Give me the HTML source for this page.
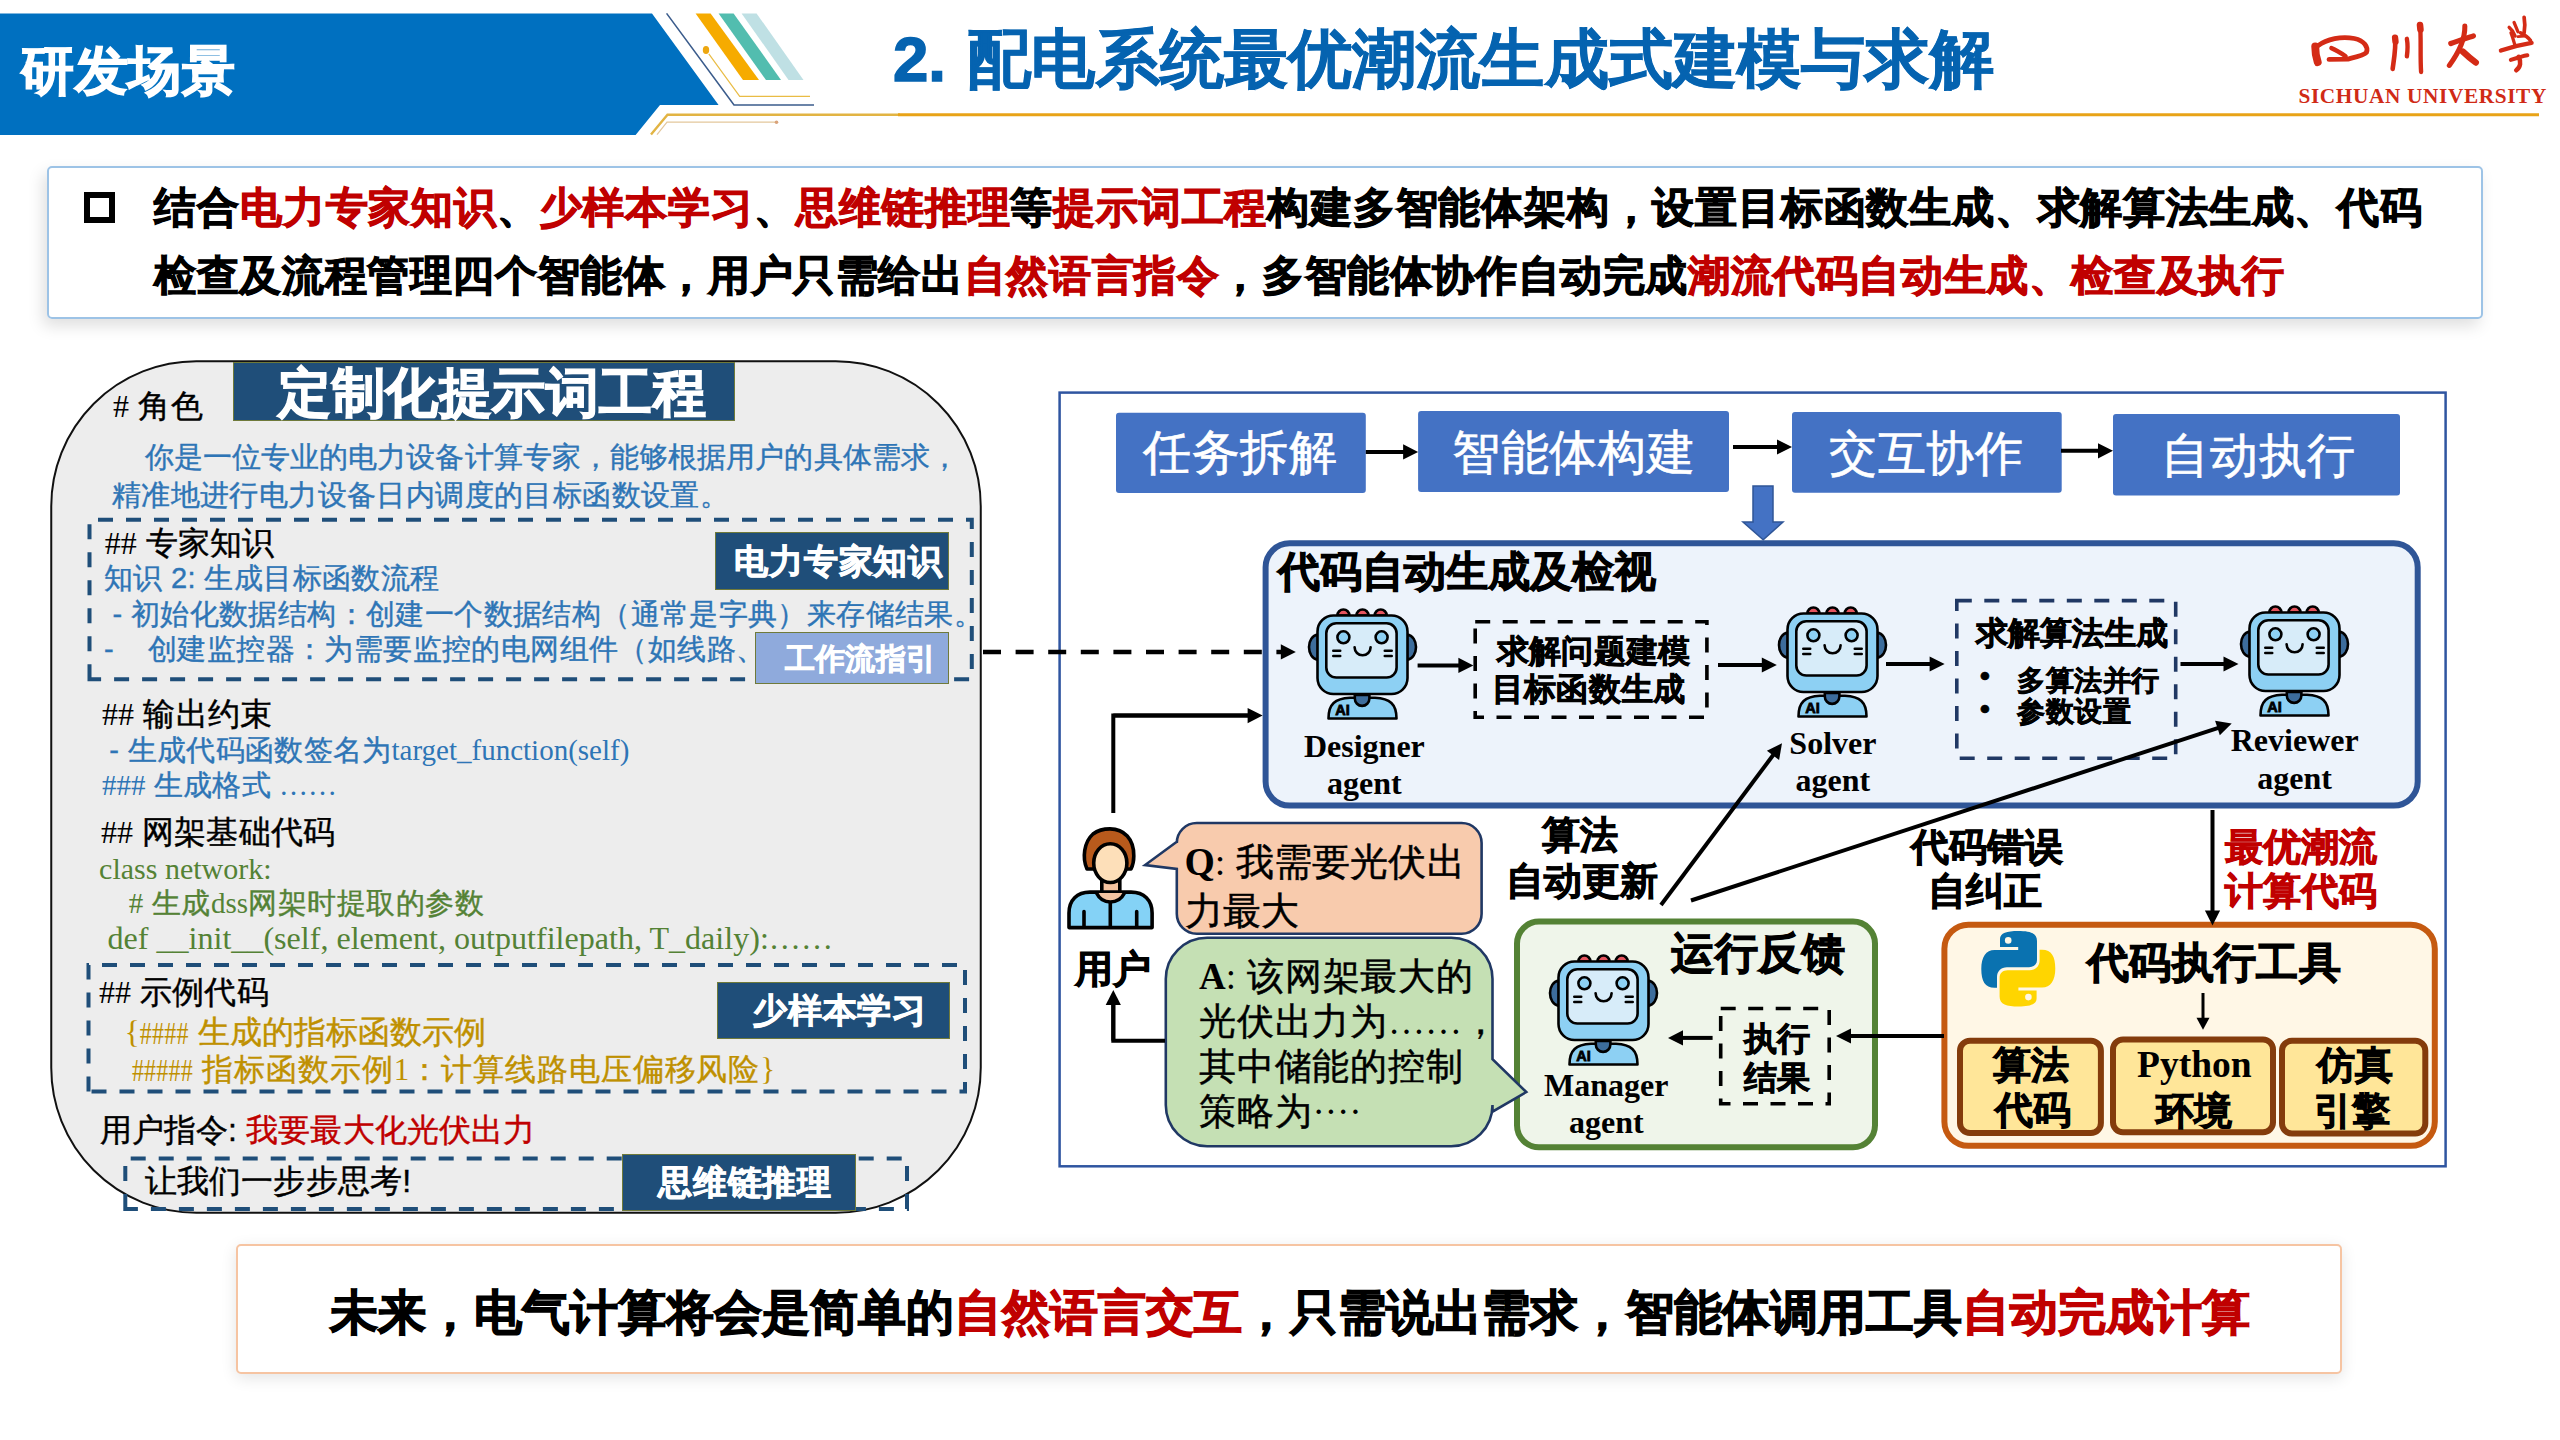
<!DOCTYPE html>
<html><head><meta charset="utf-8">
<style>
*{margin:0;padding:0;box-sizing:border-box}
html,body{width:2560px;height:1440px;overflow:hidden;background:#fff}
body{position:relative;font-family:"Liberation Sans",sans-serif;color:#000}
.a{position:absolute;white-space:nowrap;line-height:1}
.r{color:#C00000}
.sf{font-family:"Liberation Serif",serif;letter-spacing:0;-webkit-text-stroke:0}
.nh{display:inline-block;font-family:"Liberation Serif",serif;font-size:24px;letter-spacing:0.2px;-webkit-text-stroke:0;transform:scaleY(1.3);transform-origin:50% 75%}
svg{position:absolute;overflow:visible}
.lab{position:absolute;background:#1F4E79;border:1.5px solid #6F7A3A}
</style></head><body>

<svg style="left:0;top:0" width="2560" height="140" viewBox="0 0 2560 140">
  <polygon points="0,13.4 652,13.4 718.6,105 660,105 635.6,135 0,135" fill="#0070C0"/>
  <polyline points="666.6,13.4 734,105 814,105" fill="none" stroke="#3B5C8C" stroke-width="1.6"/>
  <polygon points="695.6,13.4 710.6,13.4 759,80 743,80" fill="#F6AB00"/>
  <polygon points="718.6,13.4 733.6,13.4 781,80 766,80" fill="#52BDAF"/>
  <polygon points="741.6,13.4 756.6,13.4 803.5,80 788.5,80" fill="#BFE0E4"/>
  <ellipse cx="706" cy="50" rx="3.2" ry="4" fill="#EDA710"/>
  <polyline points="708.8,53.8 739.7,96.4 810,96.4" fill="none" stroke="#E9BC45" stroke-width="1.2"/>
  <polyline points="651,134.6 667.5,114.7 900,114.7" fill="none" stroke="#E2B443" stroke-width="2.4"/>
  <line x1="898" y1="114.7" x2="2539" y2="114.7" stroke="#E8A317" stroke-width="3"/>
  <polyline points="657,134.6 667,122.2 776,122.2" fill="none" stroke="#E3C79C" stroke-width="1.2"/>
  <circle cx="776.5" cy="122.2" r="1.8" fill="#D9A37A"/>
</svg>
<div class="a" style="left:21.4px;top:44.0px;font-size:53px;font-weight:bold;-webkit-text-stroke:1.27px;color:#fff;letter-spacing:0.50px;">研发场景</div>
<div class="a" style="left:893.0px;top:27.5px;font-size:63.5px;font-weight:bold;-webkit-text-stroke:1.52px;color:#0563B0;">2.</div>
<div class="a" style="left:967.2px;top:26.5px;font-size:64px;font-weight:bold;-webkit-text-stroke:1.54px;color:#0563B0;letter-spacing:0.16px;-webkit-text-stroke:0.8px;">配电系统最优潮流生成式建模与求解</div>
<svg style="left:2280px;top:0px" width="280" height="120" viewBox="0 0 2560 1097">
<g fill="none" stroke="#D42B16" stroke-linecap="round" stroke-linejoin="round">
 <path d="M322,425 C322,480 332,530 345,568" stroke-width="72"/>
 <path d="M345,420 C430,355 560,330 680,352 C770,372 810,430 790,480 C770,505 700,520 620,540 L448,543" stroke-width="44"/>
 <path d="M470,440 C520,460 565,490 600,515" stroke-width="40"/>
 <path d="M1052,345 C1062,430 1042,540 1030,630" stroke-width="42"/>
 <path d="M1052,345 L1056,380" stroke-width="58"/>
 <path d="M1160,355 C1170,410 1166,470 1160,515" stroke-width="40"/>
 <path d="M1280,228 C1292,330 1280,500 1290,658" stroke-width="40"/>
 <path d="M1280,228 L1284,270" stroke-width="60"/>
 <path d="M1562,398 C1620,375 1700,350 1768,328" stroke-width="48"/>
 <path d="M1690,238 C1692,330 1650,460 1548,598" stroke-width="46"/>
 <path d="M1672,472 C1712,510 1758,548 1790,572" stroke-width="58"/>
 <path d="M2232,158 C2242,210 2238,260 2232,300" stroke-width="34"/>
 <path d="M2140,205 L2175,290" stroke-width="30"/>
 <path d="M2095,250 C2120,270 2140,300 2150,330" stroke-width="30"/>
 <path d="M2200,300 C2240,320 2270,340 2290,370" stroke-width="34"/>
 <path d="M2020,462 C2120,428 2220,405 2300,392" stroke-width="40"/>
 <path d="M2110,548 C2170,528 2220,512 2262,505" stroke-width="36"/>
 <path d="M2182,520 C2205,565 2200,612 2160,642" stroke-width="42"/>
 <path d="M2112,300 C2128,340 2138,380 2148,415" stroke-width="30"/>
 <path d="M2175,335 L2235,330" stroke-width="26"/>
</g></svg>
<div class="a sf" style="left:2298.5px;top:86.4px;font-size:21.3px;font-weight:bold;color:#D02A16;letter-spacing:0.62px">SICHUAN UNIVERSITY</div>
<div class="a" style="left:46.7px;top:166.1px;width:2436.5px;height:153.4px;border:2.5px solid #9DC3E6;border-radius:5px;box-shadow:-4px 7px 16px rgba(0,0,0,0.13)"></div>
<div class="a" style="left:84px;top:192px;width:31px;height:30.6px;border:6.5px solid #000"></div>
<div class="a" style="left:154.3px;top:187.4px;font-size:42px;font-weight:bold;-webkit-text-stroke:1.01px;letter-spacing:0.80px;">结合<span class="r">电力专家知识</span>、<span class="r">少样本学习</span>、<span class="r">思维链推理</span>等<span class="r">提示词工程</span>构建多智能体架构，设置目标函数生成、求解算法生成、代码</div>
<div class="a" style="left:154.3px;top:254.7px;font-size:42px;font-weight:bold;-webkit-text-stroke:1.01px;letter-spacing:0.60px;">检查及流程管理四个智能体，用户只需给出<span class="r">自然语言指令</span>，多智能体协作自动完成<span class="r">潮流代码自动生成、检查及执行</span></div>
<div class="a" style="left:236px;top:1244.2px;width:2106px;height:129.8px;border:2.8px solid #F6C4A2;border-radius:5px;box-shadow:0 4px 16px rgba(0,0,0,0.11);background:#fff"></div>
<div class="a" style="left:329.9px;top:1288.7px;font-size:48px;font-weight:bold;-webkit-text-stroke:1.15px;">未来，电气计算将会是简单的<span class="r">自然语言交互</span>，只需说出需求，智能体调用工具<span class="r">自动完成计算</span></div>
<svg style="left:0;top:0" width="1000" height="1230" viewBox="0 0 1000 1230">
 <rect x="51.25" y="361.25" width="929.5" height="851.5" rx="145" ry="145" fill="#EDEDED" stroke="#111" stroke-width="2"/>
 <g fill="none" stroke="#1F4E79" stroke-width="4" stroke-dasharray="15 13">
  <path d="M89.5,679.2 L89.5,519.7 L971.8,519.7 L971.8,679.2 Z"/>
  <path d="M88.5,1091.5 L88.5,965 L965,965 L965,1091.5 Z"/>
  <path d="M125.3,1209 L125.3,1158.4 L907,1158.4 L907,1209 Z"/>
 </g>
</svg>
<div class="lab" style="left:233px;top:362px;width:502px;height:58.5px"></div>
<div class="a" style="left:278.4px;top:366.1px;font-size:53px;font-weight:bold;-webkit-text-stroke:1.27px;color:#fff;letter-spacing:0.45px;">定制化提示词工程</div>
<div class="a" style="left:113.0px;top:390.2px;font-size:32px;-webkit-text-stroke:0.42px;letter-spacing:0.60px;"><span class="sf">#</span> 角色</div>
<div class="a" style="left:144.7px;top:442.6px;font-size:29px;-webkit-text-stroke:0.38px;color:#2E75B6;letter-spacing:0.08px;">你是一位专业的电力设备计算专家，能够根据用户的具体需求，</div>
<div class="a" style="left:111.9px;top:480.5px;font-size:29px;-webkit-text-stroke:0.38px;color:#2E75B6;letter-spacing:0.39px;">精准地进行电力设备日内调度的目标函数设置。</div>
<div class="a" style="left:104.8px;top:527.0px;font-size:32px;-webkit-text-stroke:0.42px;letter-spacing:0.04px;"><span class="sf">##</span> 专家知识</div>
<div class="a" style="left:103.8px;top:564.4px;font-size:29px;-webkit-text-stroke:0.38px;color:#2E75B6;letter-spacing:0.40px;">知识 2: 生成目标函数流程</div>
<div class="a" style="left:112.4px;top:599.5px;font-size:29px;-webkit-text-stroke:0.38px;color:#2E75B6;letter-spacing:0.39px;">- 初始化数据结构：创建一个数据结构（通常是字典）来存储结果。</div>
<div class="a" style="left:104.0px;top:634.8px;font-size:29px;-webkit-text-stroke:0.38px;color:#2E75B6;letter-spacing:0.41px;">-&nbsp;&nbsp;&nbsp; 创建监控器：为需要监控的电网组件（如线路、</div>
<div class="lab" style="left:714.75px;top:531.5px;width:234px;height:58px"></div>
<div class="a" style="left:734.2px;top:543.8px;font-size:34px;font-weight:bold;-webkit-text-stroke:0.82px;color:#fff;letter-spacing:0.80px;">电力专家知识</div>
<div class="lab" style="left:755px;top:632px;width:193.75px;height:51.75px;background:#8FAADC"></div>
<div class="a" style="left:784.5px;top:644.4px;font-size:30px;font-weight:bold;-webkit-text-stroke:0.72px;color:#fff;letter-spacing:0.37px;">工作流指引</div>
<div class="a" style="left:102.0px;top:698.2px;font-size:32px;-webkit-text-stroke:0.42px;letter-spacing:0.37px;"><span class="sf">##</span> 输出约束</div>
<div class="a" style="left:109.3px;top:736.2px;font-size:29px;-webkit-text-stroke:0.38px;color:#2E75B6;letter-spacing:0.32px;">- 生成代码函数签名为<span class="sf">target_function(self)</span></div>
<div class="a" style="left:102.0px;top:770.8px;font-size:29px;-webkit-text-stroke:0.38px;color:#2E75B6;letter-spacing:0.24px;"><span class="sf">###</span> 生成格式 <span class="sf">……</span></div>
<div class="a" style="left:100.9px;top:815.5px;font-size:32px;-webkit-text-stroke:0.42px;letter-spacing:0.22px;"><span class="sf">##</span> 网架基础代码</div>
<div class="a" style="left:99.1px;top:853.6px;font-size:30px;color:#548235;font-family:'Liberation Serif',serif;">class network:</div>
<div class="a" style="left:128.8px;top:889.4px;font-size:29px;-webkit-text-stroke:0.38px;color:#548235;letter-spacing:0.54px;"><span class="sf">#</span> 生成<span class="sf">dss</span>网架时提取的参数</div>
<div class="a" style="left:107.5px;top:922.3px;font-size:32.1px;color:#548235;font-family:'Liberation Serif',serif;">def __init__(self, element, outputfilepath, T_daily):……</div>
<div class="a" style="left:99.0px;top:976.3px;font-size:32px;-webkit-text-stroke:0.42px;letter-spacing:0.20px;"><span class="sf">##</span> 示例代码</div>
<div class="a" style="left:124.5px;top:1015.8px;font-size:32px;-webkit-text-stroke:0.42px;color:#BF9000;"><span class="sf">{</span><span class="nh">####</span> 生成的指标函数示例</div>
<div class="a" style="left:131.9px;top:1054.4px;font-size:31px;-webkit-text-stroke:0.40px;color:#BF9000;letter-spacing:0.90px;"><span class="nh">#####</span> 指标函数示例<span class="sf">1</span>：计算线路电压偏移风险<span class="sf">}</span></div>
<div class="lab" style="left:717px;top:982px;width:233px;height:57px"></div>
<div class="a" style="left:753.0px;top:993.3px;font-size:34px;font-weight:bold;-webkit-text-stroke:0.82px;color:#fff;letter-spacing:0.80px;">少样本学习</div>
<div class="a" style="left:99.6px;top:1113.8px;font-size:32px;-webkit-text-stroke:0.42px;letter-spacing:0.13px;">用户指令: <span class="r">我要最大化光伏出力</span></div>
<div class="a" style="left:144.6px;top:1164.7px;font-size:32px;-webkit-text-stroke:0.42px;letter-spacing:0.20px;">让我们一步步思考!</div>
<div class="lab" style="left:622px;top:1154px;width:233.5px;height:56.6px"></div>
<div class="a" style="left:658.0px;top:1165.3px;font-size:34px;font-weight:bold;-webkit-text-stroke:0.82px;color:#fff;letter-spacing:0.80px;">思维链推理</div>
<svg style="left:0;top:0" width="0" height="0"><defs><symbol id="robot" viewBox="0 0 125 125">
 <g stroke="#000" stroke-width="2.6" stroke-linecap="round" stroke-linejoin="round">
  <path d="M37.4,15.5 A6,6 0 0 1 49.4,15.5 Z M56.5,15.5 A6,6 0 0 1 68.5,15.5 Z M74.7,15.5 A6,6 0 0 1 86.7,15.5 Z" fill="#E4545E"/>
  <path d="M18,34.5 C6,36 6,58 18,60 Z" fill="#3D6D9C"/>
  <path d="M107,34.5 C119,36 119,58 107,60 Z" fill="#3D6D9C"/>
  <rect x="17.5" y="15.5" width="90" height="78.5" rx="16" fill="#8DD0F3"/>
  <rect x="26.3" y="23.3" width="70.3" height="54.2" rx="10" fill="#D7ECF9"/>
  <circle cx="43.4" cy="37.3" r="6" fill="#8DD0F3"/>
  <circle cx="81.6" cy="37.3" r="6" fill="#8DD0F3"/>
  <path d="M54.6,47.3 A8,8 0 0 0 70.6,47.3" fill="none"/>
  <path d="M33.3,50.8 H40.2 M33.3,56 H40.2 M84.8,50.8 H91.7 M84.8,56 H91.7" fill="none"/>
  <path d="M28.5,118.5 C28.5,104 35,98.5 50,97.8 L75,97.8 C90,98.5 96.5,104 96.5,118.5 Z" fill="#8DD0F3"/>
  <path d="M54.8,95 V98.6 A7.3,7.3 0 0 0 69.4,98.6 V95 Z" fill="#3D6D9C"/>
 </g>
 <text x="35.3" y="114.8" font-family="Liberation Sans" font-weight="bold" font-size="14" fill="#000" stroke="#000" stroke-width="0.8" textLength="14.5" lengthAdjust="spacingAndGlyphs">AI</text>
</symbol><symbol id="py" viewBox="0 0 90 90">
 <path id="pyb" d="M25,14 C25,8 32,6 43,6 C55,6 62,8 62,16 L62,35 C62,39.5 58.5,42.3 54,42.3 L32,42.3 C26,42.3 22,46.5 22,52 L22,62.8 L19.5,62.8 C10,62.8 6.3,56 6.3,44 C6.3,32 11,25 19.5,25 L43.2,25 L43.2,22 L25,22 Z" fill="#0A72B0"/>
 <circle cx="33.2" cy="15.4" r="3.3" fill="#FFF7E6"/>
 <path d="M25,14 C25,8 32,6 43,6 C55,6 62,8 62,16 L62,35 C62,39.5 58.5,42.3 54,42.3 L32,42.3 C26,42.3 22,46.5 22,52 L22,62.8 L19.5,62.8 C10,62.8 6.3,56 6.3,44 C6.3,32 11,25 19.5,25 L43.2,25 L43.2,22 L25,22 Z" fill="#FFD500" transform="rotate(180 43.3 43.75)"/>
 <circle cx="53.4" cy="72.1" r="3.3" fill="#FFF7E6"/>
</symbol><symbol id="user" viewBox="0 0 100 115">
 <g stroke="#000" stroke-width="3.6" stroke-linecap="round" stroke-linejoin="round">
  <path d="M27,49 C22,38 24,22 33,14 C39,9.5 45,8.9 50,8.9 C64,8.9 74,19 73.8,36 C73.8,41 73,45 71,49 Z" fill="#B85A1C"/>
  <rect x="41.8" y="60" width="18" height="15" fill="#F5C4A0"/>
  <path d="M9,107.6 L9,93 C9,80 17,72.1 30,72.1 L71,72.1 C84,72.1 92.1,80 92.1,93 L92.1,107.6 Z" fill="#84D2F6"/>
  <path d="M36.5,73 C40,80 45,82 50.3,82 C56,82 61,80 64.5,73" fill="#F5C4A0"/>
  <ellipse cx="50.3" cy="43.1" rx="16.6" ry="19.4" fill="#FDDFB9"/>
  <path d="M50.3,83 V107 M24,91.5 V107 M76.7,91.5 V107" fill="none"/>
 </g>
</symbol></defs></svg>
<svg style="left:0;top:0" width="2560" height="1440" viewBox="0 0 2560 1440">
 <rect x="1059.6" y="392.6" width="1386" height="773.7" fill="none" stroke="#2F55A0" stroke-width="2.5"/>
 <g fill="#4472C4">
  <rect x="1116" y="412.8" width="249.8" height="80.2" rx="3"/>
  <rect x="1418.1" y="411" width="310.9" height="81" rx="3"/>
  <rect x="1792" y="412" width="269.7" height="80.7" rx="3"/>
  <rect x="2113" y="414" width="287" height="81.6" rx="3"/>
 </g>
 <polygon points="1753,486 1773,486 1773,522 1783,522 1763.2,539.7 1743,522 1753,522" fill="#4472C4" stroke="#2F5597" stroke-width="1.5"/>
 <rect x="1265.6" y="543.3" width="1152.1" height="262.3" rx="24" fill="#EDF3FB" stroke="#2F5597" stroke-width="6"/>
 <rect x="1475.2" y="621.8" width="231.7" height="95.4" fill="none" stroke="#000" stroke-width="3.6" stroke-dasharray="15 12.5"/>
 <rect x="1956.8" y="600.6" width="218.9" height="157.6" fill="none" stroke="#203864" stroke-width="3.6" stroke-dasharray="15 12.5"/>
 <rect x="1517" y="921.6" width="358" height="225.6" rx="22" fill="#EFF5EA" stroke="#548235" stroke-width="6"/>
 <path d="M1196.8,823 H1461.6 A20,20 0 0 1 1481.6,843 V913.7 A20,20 0 0 1 1461.6,933.7 H1196.8 A20,20 0 0 1 1176.8,913.7 V869 L1145.1,865 L1176.8,841.8 V843 A20,20 0 0 1 1196.8,823 Z" fill="#F8CBAD" stroke="#203864" stroke-width="2.6" stroke-linejoin="miter"/>
 <path d="M1207.1,937.8 H1451.2 A41.3,41.3 0 0 1 1492.5,979.1 V1059.3 L1526.3,1092 L1492.5,1111.7 V1105 A41.3,41.3 0 0 1 1451.2,1146.3 H1207.1 A41.3,41.3 0 0 1 1165.8,1105 V979.1 A41.3,41.3 0 0 1 1207.1,937.8 Z" fill="#C5E0B4" stroke="#203864" stroke-width="2.6" stroke-linejoin="miter"/>
 <rect x="1720.7" y="1008.5" width="108.5" height="95.3" fill="none" stroke="#000" stroke-width="3.6" stroke-dasharray="15 12.5"/>
 <rect x="1944.4" y="924.7" width="490.4" height="221.1" rx="24" fill="#FFF7E6" stroke="#C55A11" stroke-width="6"/>
 <g fill="#FFE699" stroke="#843C0C" stroke-width="6">
  <rect x="1960" y="1040.8" width="140.9" height="92.2" rx="10"/>
  <rect x="2113" y="1039.4" width="160" height="92.9" rx="10"/>
  <rect x="2282" y="1040.8" width="143.3" height="92.8" rx="10"/>
 </g>
</svg>
<svg style="left:1300px;top:600px" width="125" height="125"><use href="#robot" width="125" height="125"/></svg>
<svg style="left:1770.2px;top:597.8px" width="125" height="125"><use href="#robot" width="125" height="125"/></svg>
<svg style="left:2231.6px;top:596.5px" width="125" height="125"><use href="#robot" width="125" height="125"/></svg>
<svg style="left:1541.4px;top:945.7px" width="125" height="125"><use href="#robot" width="125" height="125"/></svg>
<svg style="left:1060px;top:820px" width="100" height="115"><use href="#user" width="100" height="115"/></svg>
<svg style="left:1975px;top:925px" width="90" height="90"><use href="#py" width="90" height="90"/></svg>
<div class="a" style="left:1142.9px;top:429.3px;font-size:48px;-webkit-text-stroke:0.62px;color:#fff;letter-spacing:0.70px;">任务拆解</div>
<div class="a" style="left:1452.0px;top:428.5px;font-size:48px;-webkit-text-stroke:0.62px;color:#fff;letter-spacing:0.70px;">智能体构建</div>
<div class="a" style="left:1828.9px;top:429.7px;font-size:48px;-webkit-text-stroke:0.62px;color:#fff;letter-spacing:0.70px;">交互协作</div>
<div class="a" style="left:2161.2px;top:432.2px;font-size:48px;-webkit-text-stroke:0.62px;color:#fff;letter-spacing:0.70px;">自动执行</div>
<div class="a" style="left:1278.3px;top:551.1px;font-size:42px;font-weight:bold;-webkit-text-stroke:1.01px;">代码自动生成及检视</div>
<div class="a" style="left:1497.1px;top:635.1px;font-size:32px;font-weight:bold;-webkit-text-stroke:0.77px;letter-spacing:0.20px;">求解问题建模</div>
<div class="a" style="left:1492.1px;top:673.4px;font-size:32px;font-weight:bold;-webkit-text-stroke:0.77px;letter-spacing:0.20px;">目标函数生成</div>
<div class="a" style="left:1975.9px;top:617.4px;font-size:32px;font-weight:bold;-webkit-text-stroke:0.77px;letter-spacing:0.07px;">求解算法生成</div>
<div class="a" style="left:2017.1px;top:666.5px;font-size:28px;font-weight:bold;-webkit-text-stroke:0.67px;letter-spacing:0.50px;">多算法并行</div>
<div class="a" style="left:2017.1px;top:698.2px;font-size:28px;font-weight:bold;-webkit-text-stroke:0.67px;letter-spacing:0.50px;">参数设置</div>
<div class="a" style="left:1980.0px;top:662.0px;font-size:28px;font-weight:bold;-webkit-text-stroke:0.67px;">•</div>
<div class="a" style="left:1980.0px;top:694.5px;font-size:28px;font-weight:bold;-webkit-text-stroke:0.67px;">•</div>
<div class="a sf" style="left:1264.4px;width:200px;text-align:center;top:727.5px;font-size:32px;font-weight:bold;line-height:37.5px">Designer<br>agent</div>
<div class="a sf" style="left:1732.9px;width:200px;text-align:center;top:724.5px;font-size:32px;font-weight:bold;line-height:37.5px">Solver<br>agent</div>
<div class="a sf" style="left:2194.7px;width:200px;text-align:center;top:722.0px;font-size:32px;font-weight:bold;line-height:37.5px">Reviewer<br>agent</div>
<div class="a sf" style="left:1506.3px;width:200px;text-align:center;top:1066.9px;font-size:32px;font-weight:bold;line-height:37.5px">Manager<br>agent</div>
<div class="a" style="left:1075.1px;top:949.5px;font-size:38px;font-weight:bold;-webkit-text-stroke:0.91px;">用户</div>
<div class="a" style="left:1184.5px;top:836.5px;font-size:38px;-webkit-text-stroke:0.49px;letter-spacing:0.10px;line-height:49px;"><span class="sf" style="font-weight:bold;font-size:39px">Q</span><span class="sf">:</span> 我需要光伏出<br>力最大</div>
<div class="a" style="left:1199.0px;top:953.5px;font-size:37px;-webkit-text-stroke:0.48px;letter-spacing:0.80px;line-height:45px;"><span class="sf" style="font-weight:bold">A</span><span class="sf">:</span> 该网架最大的<br>光伏出力为<span class="sf">……</span>，<br>其中储能的控制<br>策略为<span class="sf">····</span></div>
<div class="a" style="left:1541.7px;top:815.6px;font-size:38px;font-weight:bold;-webkit-text-stroke:0.91px;">算法</div>
<div class="a" style="left:1505.7px;top:861.6px;font-size:38px;font-weight:bold;-webkit-text-stroke:0.91px;">自动更新</div>
<div class="a" style="left:1671.4px;top:932.4px;font-size:43px;font-weight:bold;-webkit-text-stroke:1.03px;letter-spacing:0.45px;">运行反馈</div>
<div class="a" style="left:1743.6px;top:1021.6px;font-size:33px;font-weight:bold;-webkit-text-stroke:0.79px;">执行</div>
<div class="a" style="left:1743.6px;top:1060.6px;font-size:33px;font-weight:bold;-webkit-text-stroke:0.79px;">结果</div>
<div class="a" style="left:1910.7px;top:827.7px;font-size:38px;font-weight:bold;-webkit-text-stroke:0.91px;letter-spacing:0.20px;">代码错误</div>
<div class="a" style="left:1927.7px;top:872.2px;font-size:38px;font-weight:bold;-webkit-text-stroke:0.91px;letter-spacing:0.20px;">自纠正</div>
<div class="a" style="left:2224.7px;top:828.2px;font-size:38px;font-weight:bold;-webkit-text-stroke:0.91px;color:#C00000;letter-spacing:0.10px;">最优潮流</div>
<div class="a" style="left:2224.7px;top:872.1px;font-size:38px;font-weight:bold;-webkit-text-stroke:0.91px;color:#C00000;letter-spacing:0.20px;">计算代码</div>
<div class="a" style="left:2086.9px;top:942.0px;font-size:42px;font-weight:bold;-webkit-text-stroke:1.01px;letter-spacing:0.40px;">代码执行工具</div>
<div class="a" style="left:1993.3px;top:1046.2px;font-size:38px;font-weight:bold;-webkit-text-stroke:0.91px;">算法</div>
<div class="a" style="left:1995.2px;top:1090.7px;font-size:38px;font-weight:bold;-webkit-text-stroke:0.91px;">代码</div>
<div class="a sf" style="left:2137px;top:1046px;font-size:37.5px;font-weight:bold">Python</div>
<div class="a" style="left:2155.7px;top:1091.7px;font-size:38px;font-weight:bold;-webkit-text-stroke:0.91px;">环境</div>
<div class="a" style="left:2317.2px;top:1045.7px;font-size:38px;font-weight:bold;-webkit-text-stroke:0.91px;">仿真</div>
<div class="a" style="left:2314.2px;top:1091.7px;font-size:38px;font-weight:bold;-webkit-text-stroke:0.91px;">引擎</div>
<svg style="left:0;top:0" width="2560" height="1440" viewBox="0 0 2560 1440"><line x1="1365.8" y1="451.9" x2="1404.1" y2="451.9" stroke="#000" stroke-width="4"/>
<polygon points="1418.1,451.9 1403.1,459.5 1403.1,444.3" fill="#000"/>
<line x1="1733.0" y1="447.0" x2="1778.0" y2="447.0" stroke="#000" stroke-width="4"/>
<polygon points="1792.0,447.0 1777.0,454.6 1777.0,439.4" fill="#000"/>
<line x1="2061.0" y1="450.8" x2="2099.0" y2="450.8" stroke="#000" stroke-width="4"/>
<polygon points="2113.0,450.8 2098.0,458.4 2098.0,443.2" fill="#000"/>
<line x1="1417.6" y1="665.4" x2="1459.4" y2="665.4" stroke="#000" stroke-width="4"/>
<polygon points="1473.4,665.4 1458.4,673.0 1458.4,657.8" fill="#000"/>
<line x1="1718.0" y1="665.0" x2="1762.8" y2="665.0" stroke="#000" stroke-width="4"/>
<polygon points="1776.8,665.0 1761.8,672.6 1761.8,657.4" fill="#000"/>
<line x1="1886.0" y1="664.0" x2="1930.6" y2="664.0" stroke="#000" stroke-width="4"/>
<polygon points="1944.6,664.0 1929.6,671.6 1929.6,656.4" fill="#000"/>
<line x1="2180.5" y1="664.0" x2="2224.5" y2="664.0" stroke="#000" stroke-width="4"/>
<polygon points="2238.5,664.0 2223.5,671.6 2223.5,656.4" fill="#000"/>
<line x1="983.0" y1="651.9" x2="1281.8" y2="651.9" stroke="#000" stroke-width="4.5" stroke-dasharray="18 14.6"/>
<polygon points="1295.8,651.9 1280.8,659.5 1280.8,644.3" fill="#000"/>
<polyline points="1113.3,813.0 1113.3,715.6 1250.0,715.6" fill="none" stroke="#000" stroke-width="4" stroke-linejoin="miter"/>
<line x1="1113.3" y1="715.6" x2="1248.6" y2="715.6" stroke="#000" stroke-width="4"/>
<polygon points="1262.6,715.6 1247.6,723.2 1247.6,708.0" fill="#000"/>
<polyline points="1165.0,1040.7 1113.3,1040.7 1113.3,1003.0" fill="none" stroke="#000" stroke-width="4" stroke-linejoin="miter"/>
<line x1="1113.3" y1="1040.7" x2="1113.3" y2="1004.0" stroke="#000" stroke-width="4"/>
<polygon points="1113.3,990.0 1120.9,1005.0 1105.7,1005.0" fill="#000"/>
<line x1="1712.6" y1="1037.9" x2="1682.0" y2="1037.9" stroke="#000" stroke-width="4"/>
<polygon points="1668.0,1037.9 1683.0,1030.3 1683.0,1045.5" fill="#000"/>
<line x1="1944.0" y1="1036.0" x2="1850.0" y2="1036.0" stroke="#000" stroke-width="4"/>
<polygon points="1836.0,1036.0 1851.0,1028.4 1851.0,1043.6" fill="#000"/>
<line x1="1661.0" y1="905.0" x2="1773.6" y2="754.5" stroke="#000" stroke-width="4"/>
<polygon points="1782.0,743.3 1779.1,759.9 1766.9,750.8" fill="#000"/>
<line x1="1691.0" y1="900.5" x2="2218.4" y2="727.8" stroke="#000" stroke-width="4"/>
<polygon points="2231.7,723.4 2219.8,735.3 2215.1,720.8" fill="#000"/>
<line x1="2212.5" y1="810.0" x2="2212.5" y2="911.4" stroke="#000" stroke-width="4"/>
<polygon points="2212.5,925.4 2204.9,910.4 2220.1,910.4" fill="#000"/>
<line x1="2203.0" y1="993.0" x2="2203.0" y2="1018.7" stroke="#000" stroke-width="3"/>
<polygon points="2203.0,1029.7 2196.5,1017.7 2209.5,1017.7" fill="#000"/></svg>
</body></html>
